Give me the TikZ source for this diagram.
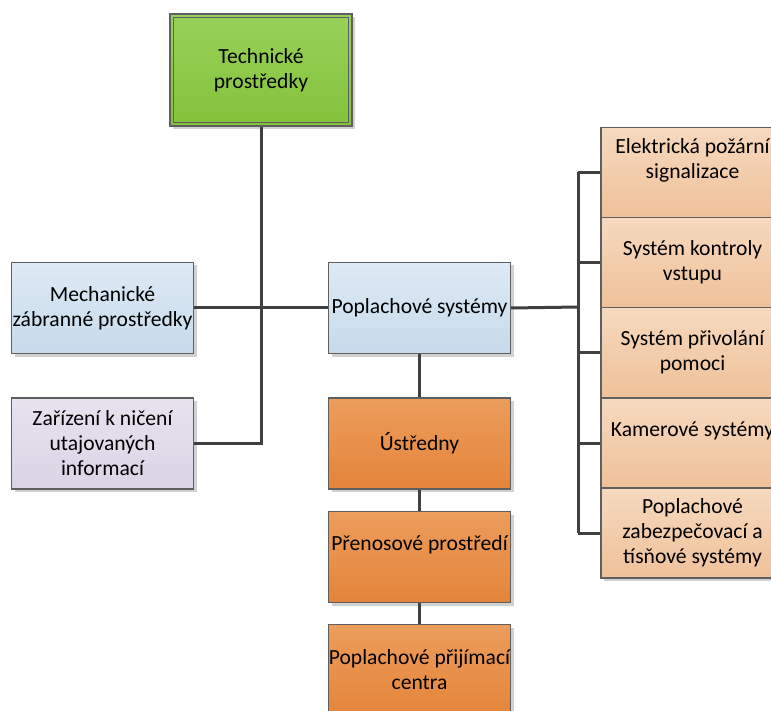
\documentclass[tikz,border=0pt]{standalone}
\usepackage{fontspec}
\setmainfont{Carlito}
\usetikzlibrary{shadows}

\definecolor{grnTop}{HTML}{98D15A}
\definecolor{grnBot}{HTML}{84C23B}
\definecolor{bluTop}{HTML}{DEEAF5}
\definecolor{bluBot}{HTML}{C7DAEB}
\definecolor{purTop}{HTML}{E8E3EF}
\definecolor{purBot}{HTML}{DAD3E5}
\definecolor{orgTop}{HTML}{EC9D5C}
\definecolor{orgBot}{HTML}{E4843A}
\definecolor{pchTop}{HTML}{F6D9BF}
\definecolor{pchBot}{HTML}{EFC199}
\definecolor{edgeGrey}{HTML}{5F5F5F}
\definecolor{wireGrey}{HTML}{404040}

\begin{document}
\begin{tikzpicture}[x=1pt,y=-1pt,
	boxtext/.style={align=center, inner sep=0pt, font=\fontsize{21.6}{25}\selectfont},
	box/.style={boxtext, draw=edgeGrey, line width=1.2pt, minimum width=182pt, minimum height=91pt,
		drop shadow={shadow xshift=3pt, shadow yshift=-3pt, fill=black!18, opacity=1}},
	greenbox/.style={box, top color=grnTop, bottom color=grnBot},
	bluebox/.style={box, top color=bluTop, bottom color=bluBot},
	purplebox/.style={box, top color=purTop, bottom color=purBot},
	orangebox/.style={box, top color=orgTop, bottom color=orgBot},
	peachbox/.style={box, top color=pchTop, bottom color=pchBot, minimum width=183pt, minimum height=90pt},
	wire/.style={draw=wireGrey, line width=3pt}]
	\useasboundingbox (0,0) rectangle (771,711);

	% wires first, boxes on top
	\coordinate (lbus) at (261,126);
	\coordinate (rbus) at (578,307);

	% top box
	\node[greenbox, minimum height=112pt] (tech) at (261,70) {Technické\\prostředky};
	\draw[edgeGrey, line width=1pt] ([xshift=4pt,yshift=-4pt]tech.north west) rectangle ([xshift=-4pt,yshift=4pt]tech.south east);

	% left column
	\node[bluebox] (mech) at (102.5,308) {Mechanické\\zábranné prostředky};
	\node[purplebox] (zar) at (102.5,443.5) {Zařízení k ničení\\utajovaných\\informací};

	% middle column
	\node[bluebox] (pop) at (419.5,308) {Poplachové systémy};
	\node[orangebox] (ustr) at (419.5,443.5) {Ústředny};
	\node[orangebox] (pren) at (419.5,557) {};
	\node[boxtext] (prentext) at (419.5,545) {Přenosové prostředí};
	\node[orangebox] (pcentra) at (419.5,670) {Poplachové přijímací\\centra};

	% right column
	\node[peachbox] (eps) at (692.5,172.5) {};
	\node[boxtext] (epstext) at (692.5,160) {Elektrická požární\\signalizace};
	\node[peachbox] (skv) at (692.5,262.5) {Systém kontroly\\vstupu};
	\node[peachbox] (spp) at (692.5,352.5) {Systém přivolání\\pomoci};
	\node[peachbox] (kam) at (692.5,443) {};
	\node[boxtext] (kamtext) at (692.5,431) {Kamerové systémy};
	\node[peachbox] (pzts) at (692.5,533) {Poplachové\\zabezpečovací a\\tísňové systémy};

	% connectors
	\draw[wire] (tech.south) -- (tech.south |- zar.east) -- (zar.east);
	\draw[wire] (mech.east) -- (pop.west);
	\draw[wire] (pop.east) -- (rbus);
	\draw[wire] (rbus |- eps.west) -- (rbus |- pzts.west);
	\draw[wire] (rbus |- eps.west) -- (eps.west);
	\draw[wire] (rbus |- skv.west) -- (skv.west);
	\draw[wire] (rbus |- spp.west) -- (spp.west);
	\draw[wire] (rbus |- kam.west) -- (kam.west);
	\draw[wire] (rbus |- pzts.west) -- (pzts.west);
	\draw[wire] (pop.south) -- (ustr.north);
	\draw[wire] (ustr.south) -- (pren.north);
	\draw[wire] (pren.south) -- (pcentra.north);
\end{tikzpicture}
\end{document}
